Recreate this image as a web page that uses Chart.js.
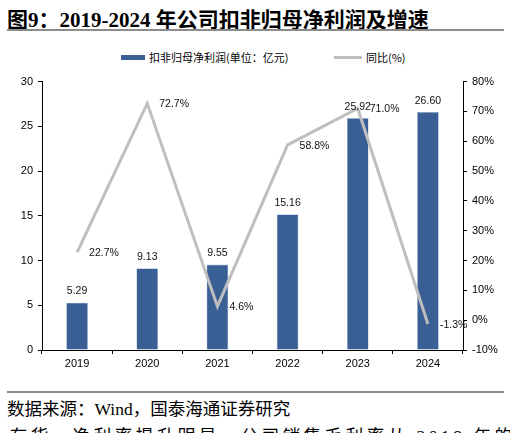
<!DOCTYPE html>
<html>
<head>
<meta charset="utf-8">
<script src="https://cdn.jsdelivr.net/npm/chart.js@4.4.1/dist/chart.umd.min.js"></script>
<style>
  body { margin:0; width:510px; height:433px; overflow:hidden; background:#fff; position:relative; }
  .t { position:absolute; white-space:nowrap; color:#000; }
  #title { left:7px; top:3px; font:bold 21px "Liberation Serif","Noto Sans CJK SC",serif; }
  .rule { position:absolute; left:7px; width:497px; height:2px; background:#8c8c8c; }
  #legend { position:absolute; top:49px; left:0; width:510px; height:16px; font:11px "Noto Sans CJK SC",sans-serif; color:#000; }
  .sw { position:absolute; }
  #src { left:7px; top:395px; font:17.5px "Liberation Serif","Noto Sans CJK SC",serif; }
  #more { left:0; top:422px; font:17.5px "Liberation Serif","Noto Sans CJK SC",serif; letter-spacing:3.5px; }
  #c { position:absolute; left:0; top:70px; }
</style>
</head>
<body>
<div id="title" class="t">图9：2019-2024 年公司扣非归母净利润及增速</div>
<div class="rule" style="top:29px"></div>
<div id="legend">
  <div class="sw" style="left:121px;top:6px;width:24px;height:5px;background:#3A5F94"></div>
  <div class="t" style="left:149px;top:0">扣非归母净利润(单位：亿元)</div>
  <div class="sw" style="left:334px;top:7px;width:28px;height:3px;background:#BFBFBF"></div>
  <div class="t" style="left:366px;top:0">同比(%)</div>
</div>
<canvas id="c" width="510" height="305"></canvas>
<div class="rule" style="top:391px"></div>
<div id="src" class="t">数据来源：Wind，国泰海通证券研究</div>
<div id="more" class="t">▪存货，净利率提升明显，公司销售毛利率从 2019 年的</div>

<script>
// 数据 ####################################################
var years = ["2019", "2020", "2021", "2022", "2023", "2024"];
var profit = [5.29, 9.13, 9.55, 15.16, 25.92, 26.60];   // 亿元
var growth = [22.7, 72.7, 4.6, 58.8, 71.0, -1.3];       // %

var tickFont = { family: "Liberation Sans", size: 11 };

// 数值标签 ####################################################
var valueLabels = {
  id: 'valueLabels',
  afterDatasetsDraw: function(chart) {
    var ctx = chart.ctx;
    ctx.save();
    ctx.font = '10.5px "Liberation Sans"';
    ctx.fillStyle = '#111';
    // 柱子上方
    chart.getDatasetMeta(0).data.forEach(function(bar, i) {
      ctx.textAlign = 'center';
      ctx.textBaseline = 'bottom';
      ctx.fillText(profit[i].toFixed(2), bar.x, bar.y - 6);
    });
    // 折线点右侧
    chart.getDatasetMeta(1).data.forEach(function(pt, i) {
      ctx.textAlign = 'left';
      ctx.textBaseline = 'middle';
      ctx.fillText(growth[i].toFixed(1) + '%', pt.x + 12, pt.y + 1);
    });
    ctx.restore();
  }
};

var ctx = document.getElementById('c').getContext('2d');
var myChart = new Chart(ctx, {
  data: {
    labels: years,
    datasets: [{
      type: 'bar',
      label: '扣非归母净利润(单位：亿元)',
      data: profit,
      yAxisID: 'y',
      backgroundColor: '#3A5F94',
      borderColor: '#A9BCD8',
      borderWidth: 0.6,
      barPercentage: 0.31,
      categoryPercentage: 1,
      order: 1
    }, {
      type: 'line',
      label: '同比(%)',
      data: growth,
      yAxisID: 'y1',
      borderColor: '#BFBFBF',
      borderWidth: 3,
      pointRadius: 0,
      tension: 0,
      order: 0
    }]
  },
  options: {
    responsive: false,
    animation: false,
    layout: { padding: { top: 9 } },
    plugins: { legend: { display: false }, tooltip: { enabled: false } },
    scales: {
      x: {
        offset: true,
        grid: { offset: true, drawOnChartArea: false, drawTicks: true, tickLength: 4, tickColor: '#000' },
        border: { color: '#000' },
        ticks: { font: tickFont, color: '#000', padding: 3 },
        afterFit: function(s) { s.height = 25; }
      },
      y: {
        position: 'left',
        min: 0, max: 30,
        grid: { drawOnChartArea: false, tickLength: 4, tickColor: '#000' },
        border: { color: '#000' },
        ticks: { stepSize: 5, font: tickFont, color: '#000', padding: 5 },
        afterFit: function(s) { s.width = 42; }
      },
      y1: {
        position: 'right',
        min: -10, max: 80,
        grid: { drawOnChartArea: false, tickLength: 4, tickColor: '#000' },
        border: { color: '#000' },
        ticks: { stepSize: 10, font: tickFont, color: '#000', padding: 5,
                 callback: function(v) { return v + '%'; } },
        afterFit: function(s) { s.width = 47; }
      }
    }
  },
  plugins: [valueLabels]
});
</script>
</body>
</html>
